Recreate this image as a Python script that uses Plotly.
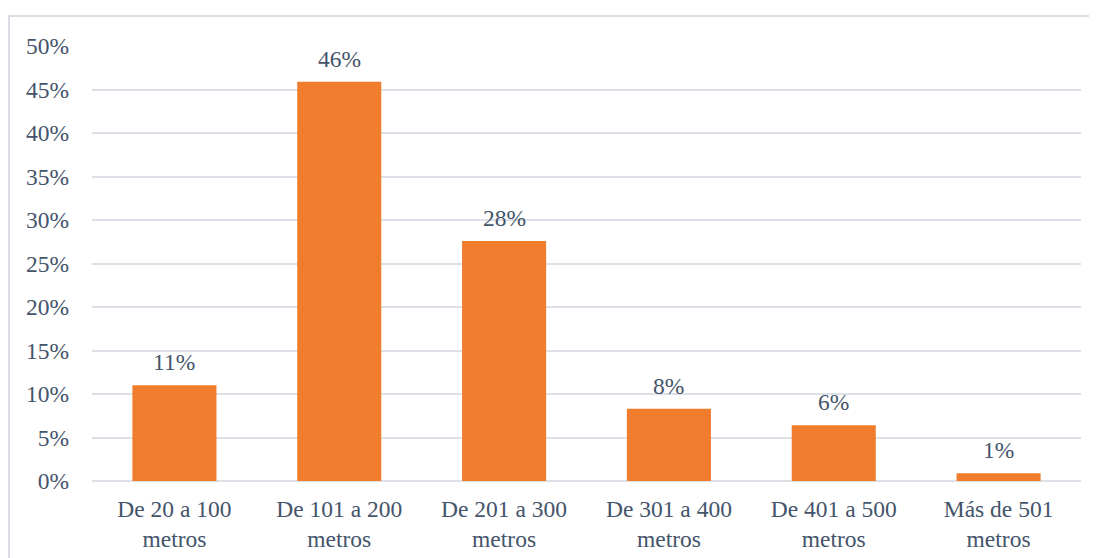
import plotly.graph_objects as go

categories = ["De 20 a 100<br>metros", "De 101 a 200<br>metros", "De 201 a 300<br>metros",
              "De 301 a 400<br>metros", "De 401 a 500<br>metros", "Más de 501<br>metros"]
values = [11.0, 45.9, 27.6, 8.3, 6.4, 0.9]
labels = ["11%", "46%", "28%", "8%", "6%", "1%"]

text_color = "#44546A"
grid_color = "#DDE1E7"
bar_color = "#F07D2E"
serif = "Liberation Serif, DejaVu Serif"
fs = 23.5

fig = go.Figure(go.Bar(
    x=categories, y=values,
    marker=dict(color=bar_color, line=dict(width=0)),
    width=0.51,
))

for c, v, t in zip(categories, values, labels):
    fig.add_annotation(x=c, y=v, text=t, showarrow=False, yanchor="bottom", yshift=8,
                       font=dict(family=serif, size=fs, color=text_color))

W, H = 1089, 550
ml, mr, mt, mb = 84, 16, 38, 77
pw, ph = W - ml - mr, H - mt - mb

fig.update_layout(
    width=W, height=H,
    margin=dict(l=ml, r=mr, t=mt, b=mb),
    paper_bgcolor="white", plot_bgcolor="white",
    font=dict(family=serif, size=fs, color=text_color),
    showlegend=False,
    xaxis=dict(showgrid=False, showline=False, ticks="", ticklabelstandoff=11, automargin=False,
               tickfont=dict(family=serif, size=fs, color=text_color)),
    yaxis=dict(range=[0, 50], dtick=5, ticksuffix="%", showgrid=True, gridcolor=grid_color,
               gridwidth=2, zeroline=True, zerolinecolor=grid_color, zerolinewidth=2,
               showline=False, ticks="", ticklabelstandoff=22, automargin=False,
               tickfont=dict(family=serif, size=fs, color=text_color)),
    shapes=[dict(type="rect", xref="paper", yref="paper",
                 x0=(1 - ml) / pw, x1=(W + 20 - ml) / pw,
                 y0=-(mb + 20) / ph, y1=(H - 8 - mb) / ph,
                 line=dict(color="#D9DDE3", width=2), fillcolor="rgba(0,0,0,0)",
                 layer="below")],
)

fig.write_html("out.html")
